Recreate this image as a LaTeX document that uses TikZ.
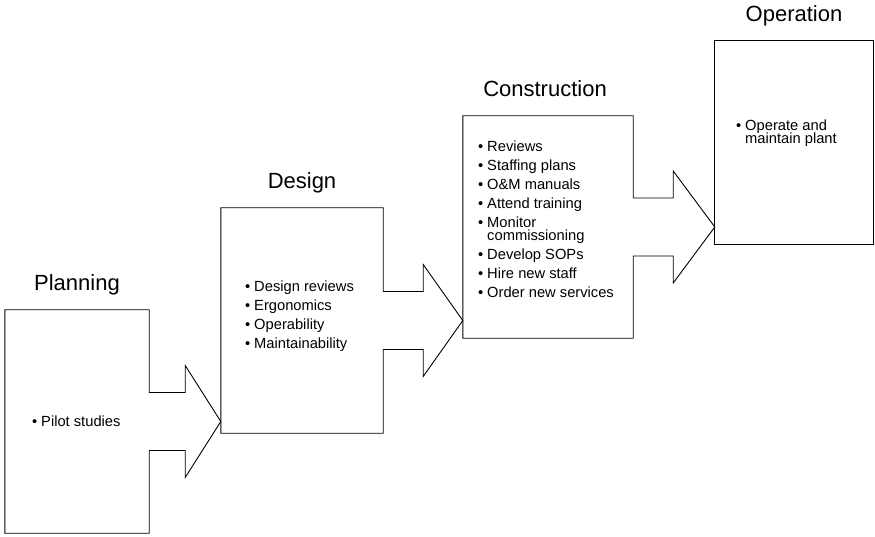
\documentclass[tikz,border=0pt]{standalone}
\usepackage{fontspec}
\setmainfont{Liberation Sans}
\usepackage{tikz}
\usetikzlibrary{positioning}
\usetikzlibrary{calc}
\setlength{\lineskiplimit}{-8pt}
\tikzset{
	semithick,
	stage/.style = {rectangle, inner sep=0pt},
	title/.style = {inner sep=0pt, text depth=5pt,
	 font=\fontsize{22}{24}\selectfont},
	list/.style = {inner sep=0pt, align=left,
	 font=\fontsize{14.7}{13}\selectfont},
	outline/.style = {line width=0.9pt, line join=miter},
}

\begin{document}
\begin{tikzpicture}[x=1pt,y=1pt]
	\useasboundingbox (0,0) rectangle (875,536);
	\node (plan) [stage, minimum width=144pt, minimum height=223pt] at (77,114.5) {};
	\node (dsgn) [stage, minimum width=162pt, minimum height=225pt] at (302,215.5) {};
	\node (cons) [stage, minimum width=170pt, minimum height=222pt] at (548,309) {};
	\node (oper) [stage, minimum width=158pt, minimum height=203pt] at (794,393.5) {};
	% titles
	\node (plantitle) [title, above=14pt of plan] {Planning};
	\node (dsgntitle) [title, above=14pt of dsgn] {Design};
	\node (constitle) [title, above=14pt of cons, xshift=-3pt] {Construction};
	\node (opertitle) [title, above=14pt of oper] {Operation};
	% lists
	\node (plantext) [list, right=27pt of plan.west] {\textbullet\ Pilot studies};
	\node (dsgntext) [list, right=24pt of dsgn.west, yshift=4pt]
	 {\textbullet\ Design reviews\\[6pt] \textbullet\ Ergonomics\\[6pt]
	  \textbullet\ Operability\\[6pt] \textbullet\ Maintainability};
	\node (constext) [list, below right=25pt and 15pt of cons.north west]
	 {\textbullet\ Reviews\\[6pt] \textbullet\ Staffing plans\\[6pt]
	  \textbullet\ O\&M manuals\\[6pt] \textbullet\ Attend training\\[6pt]
	  \textbullet\ Monitor\\ \hphantom{\textbullet\ }commissioning\\[6pt]
	  \textbullet\ Develop SOPs\\[6pt] \textbullet\ Hire new staff\\[6pt]
	  \textbullet\ Order new services};
	\node (opertext) [list, below right=79pt and 21pt of oper.north west]
	 {\textbullet\ Operate and\\ \hphantom{\textbullet\ }maintain plant};
	% boxes with their arrows
	\draw[outline] (plan.north east) -- ([yshift=29pt]plan.east) -- ++(36,0)
	 -- ++(0,27) -- (plan.east -| dsgn.west) -- ([xshift=36pt,yshift=-56pt]plan.east)
	 -- ++(0,27) -- ([yshift=-29pt]plan.east) -- (plan.south east)
	 -- (plan.south west) -- (plan.north west) -- cycle;
	\draw[outline] (dsgn.north east) -- ([yshift=29pt]dsgn.east) -- ++(40,0)
	 -- ++(0,27) -- (dsgn.east -| cons.west) -- ([xshift=40pt,yshift=-56pt]dsgn.east)
	 -- ++(0,27) -- ([yshift=-29pt]dsgn.east) -- (dsgn.south east)
	 -- (dsgn.south west) -- (dsgn.north west) -- cycle;
	\draw[outline] (cons.north east) -- ([yshift=29pt]cons.east) -- ++(40,0)
	 -- ++(0,27) -- (cons.east -| oper.west) -- ([xshift=40pt,yshift=-56pt]cons.east)
	 -- ++(0,27) -- ([yshift=-29pt]cons.east) -- (cons.south east)
	 -- (cons.south west) -- (cons.north west) -- cycle;
	\draw[outline] (oper.north west) rectangle (oper.south east);
\end{tikzpicture}
\end{document}
